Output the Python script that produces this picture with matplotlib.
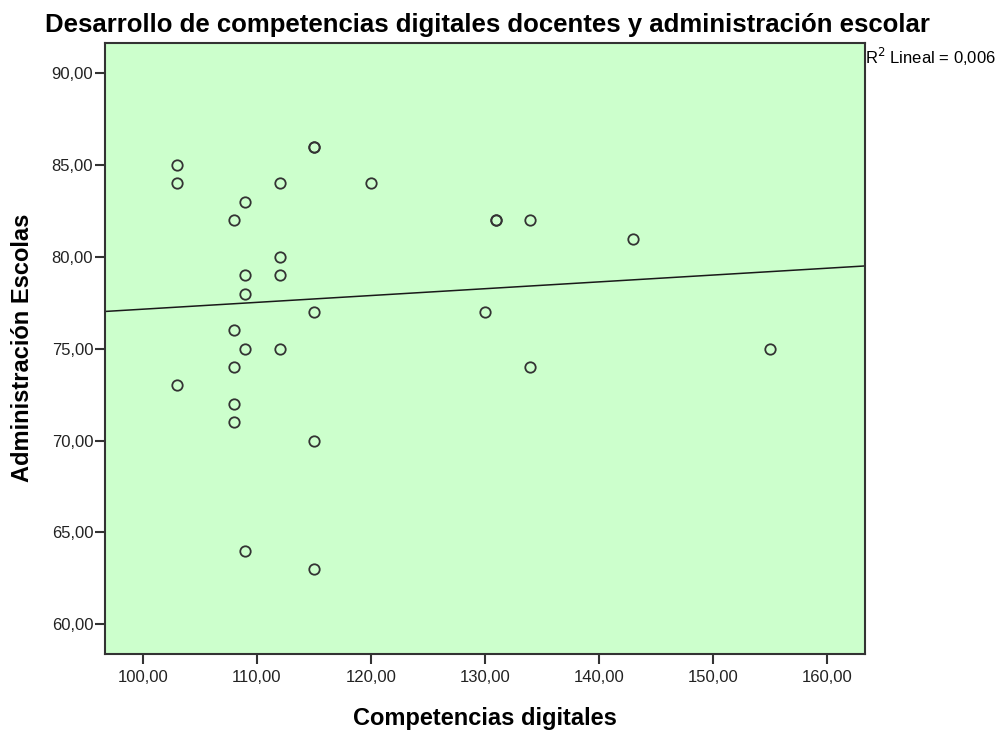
import numpy as np
import matplotlib.pyplot as plt
from matplotlib.ticker import FuncFormatter

competencias = [103, 103, 103,
                108, 108, 108, 108, 108,
                109, 109, 109, 109, 109,
                112, 112, 112, 112,
                115, 115, 115, 115, 115,
                120, 130, 131, 131, 134, 134, 143, 155]
administracion = [85, 84, 73,
                  82, 76, 74, 72, 71,
                  83, 79, 78, 75, 64,
                  84, 80, 79, 75,
                  86, 86, 77, 70, 63,
                  84, 77, 82, 82, 82, 74, 81, 75]

plt.rcParams['font.family'] = ['Liberation Sans', 'DejaVu Sans']

x = np.array(competencias, dtype=float)
y = np.array(administracion, dtype=float)
pend, inter = np.polyfit(x, y, 1)
r2 = np.corrcoef(x, y)[0, 1] ** 2

fig = plt.figure(figsize=(10.04, 7.31), dpi=100)
ax = fig.add_axes([0.1046, 0.105, 0.7565, 0.8358])
ax.set_facecolor('#ccffcc')

xlim = (96.7, 163.3)
ax.set_xlim(xlim)
ax.set_ylim(58.37, 91.63)

# recta de ajuste lineal
xl = np.array(xlim)
ax.plot(xl, inter + pend * xl, color='#1a1a1a', lw=1.1, zorder=2)
ax.plot(x, y, 'o', mfc='none', mec='#333333', mew=1.3, ms=7.5, zorder=3)

ax.set_xticks(np.arange(100, 161, 10))
ax.set_yticks(np.arange(60, 91, 5))
fmt = FuncFormatter(lambda v, p: f'{v:.2f}'.replace('.', ','))
ax.xaxis.set_major_formatter(fmt)
ax.yaxis.set_major_formatter(fmt)
ax.tick_params(direction='out', length=7.5, width=1.5, color='#333333',
               labelsize=12, labelcolor='#222222')
ax.tick_params(axis='y', pad=1)
ax.tick_params(axis='x', pad=4)

for s in ax.spines.values():
    s.set_color('#333333')
    s.set_linewidth(1.5)

fig.text(485 / 1004, 1 - 725 / 731, 'Competencias digitales',
         ha='center', va='baseline', fontsize=17, fontweight='bold')
fig.text(23 / 1004, 1 - 348 / 731, 'Administración Escolas', rotation=90,
         ha='center', va='center', fontsize=17, fontweight='bold')

fig.text(487 / 1004, 1 - 32 / 731,
         'Desarrollo de competencias digitales docentes y administración escolar',
         ha='center', va='baseline', fontsize=18.5, fontweight='bold')
fig.text(0.862, 1 - 57 / 731, f'R$^2$ Lineal = {r2:.3f}'.replace('.', ','),
         ha='left', va='center', fontsize=12)

plt.savefig('out.png', dpi=100)
